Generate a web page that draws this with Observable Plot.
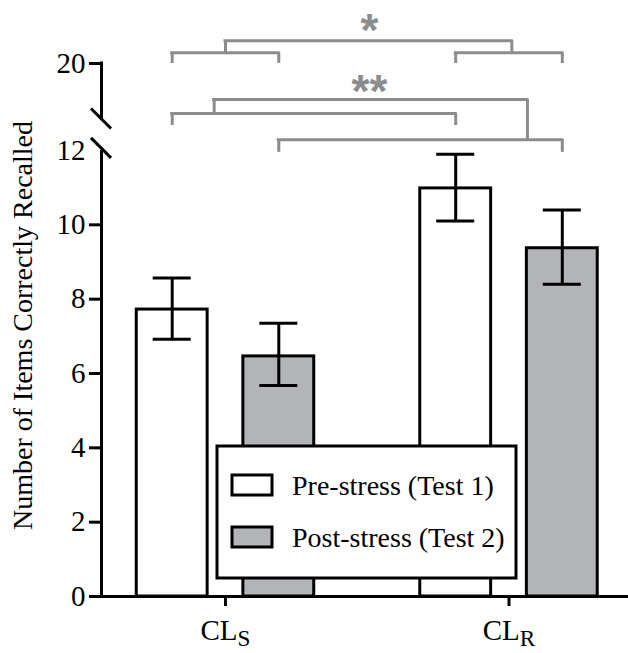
<!DOCTYPE html>
<html><head><meta charset="utf-8">
<script src="https://cdn.jsdelivr.net/npm/d3@7"></script>
<script src="https://cdn.jsdelivr.net/npm/@observablehq/plot@0.6"></script>
<style>body{margin:0;background:#fff;} svg{display:block}</style>
</head><body><div id="chart"></div>
<script>
// ---- data ----
const groups = ["CL_S", "CL_R"];
const conditions = ["Pre-stress (Test 1)", "Post-stress (Test 2)"];
const barGroup = [0, 0, 1, 1];
const barCondition = [0, 1, 0, 1];
const barMean = [7.72, 6.46, 10.98, 9.37];
const barLow = [6.92, 5.68, 10.10, 8.40];
const barHigh = [8.57, 7.35, 11.90, 10.40];
const yTicks = [0, 2, 4, 6, 8, 10, 20];
const yBreakTick = [12];
const yLabel = "Number of Items Correctly Recalled";

// pairwise comparison brackets (bar indices and levels in axis units)
const compFrom = [0, 2, 0, 1];
const compTo = [1, 3, 2, 3];
const compLevel = [21.0, 21.0, 15.4, 13.0];
const compLegEnd = [20.0, 20.0, 14.3, 11.95];
// significance connectors joining two comparisons
const sigText = ["*", "**"];
const sigLevel = [22.1, 16.7];
const sigLeftComp = [0, 2];
const sigRightComp = [1, 3];
const sigLeftX = [0.0, -0.04];
const sigRightX = [1.01, 1.065];
const sigTextLevel = [23.0, 17.4];
const breakMarks = [14.9, 12.2];

// ---- layout constants ----
const W = 628, H = 653;
const condOffset = [-0.188, 0.188];
const halfBar = 0.125, halfCap = 0.067;
const xDomain = [-0.4374, 1.4215];
const GRAY = "#b3b4b8", BR = "#8b8c8e";
const SERIF = "'Liberation Serif', 'Times New Roman', serif";

const bars = barMean.map((m, i) => ({
  x: barGroup[i] + condOffset[barCondition[i]],
  cond: barCondition[i], mean: m, lo: barLow[i], hi: barHigh[i]
}));
const comps = compFrom.map((f, i) => ({
  x1: bars[f].x, x2: bars[compTo[i]].x, level: compLevel[i], leg: compLegEnd[i]
}));
const legs = comps.flatMap(c => [{x: c.x1, y1: c.level, y2: c.leg}, {x: c.x2, y1: c.level, y2: c.leg}]);
const sigs = sigText.map((t, i) => ({
  text: t, level: sigLevel[i], tl: sigTextLevel[i], x1: sigLeftX[i], x2: sigRightX[i],
  l1: compLevel[sigLeftComp[i]], l2: compLevel[sigRightComp[i]]
}));
const sigLegs = sigs.flatMap(s => [{x: s.x1, y1: s.level, y2: s.l1}, {x: s.x2, y1: s.level, y2: s.l2}]);

const chart = Plot.plot({
  width: W, height: H,
  marginLeft: 101, marginRight: 0, marginTop: 0, marginBottom: 57,
  style: {fontFamily: SERIF, fontSize: "29px", color: "black", background: "white"},
  x: {type: "linear", domain: xDomain, range: [101, 628], axis: null},
  y: {type: "linear", domain: [0, 12, 20], range: [596, 150, 63], axis: null},
  marks: [
    Plot.rect(bars, {x1: d => d.x - halfBar, x2: d => d.x + halfBar, y1: 0, y2: "mean",
      fill: d => d.cond === 0 ? "white" : GRAY, stroke: "black", strokeWidth: 3}),
    Plot.ruleX(bars, {x: "x", y1: "lo", y2: "hi", stroke: "black", strokeWidth: 3}),
    Plot.ruleY(bars, {y: "lo", x1: d => d.x - halfCap, x2: d => d.x + halfCap, stroke: "black", strokeWidth: 3}),
    Plot.ruleY(bars, {y: "hi", x1: d => d.x - halfCap, x2: d => d.x + halfCap, stroke: "black", strokeWidth: 3}),
    // brackets
    Plot.ruleY(comps, {y: "level", x1: "x1", x2: "x2", stroke: BR, strokeWidth: 3, strokeLinecap: "square"}),
    Plot.ruleX(legs, {x: "x", y1: "y1", y2: "y2", stroke: BR, strokeWidth: 3}),
    Plot.ruleY(sigs, {y: "level", x1: "x1", x2: "x2", stroke: BR, strokeWidth: 3, strokeLinecap: "square"}),
    Plot.ruleX(sigLegs, {x: "x", y1: "y1", y2: "y2", stroke: BR, strokeWidth: 3}),
    Plot.text(sigs, {x: 0.508, y: "tl", text: "text", fill: BR, fontFamily: "'Liberation Sans', Arial, sans-serif",
      fontWeight: "bold", fontSize: 46}),
    // axes
    Plot.ruleY([0], {stroke: "black", strokeWidth: 3}),
    Plot.ruleX([xDomain[0]], {y1: 0, y2: 12, stroke: "black", strokeWidth: 3}),
    Plot.ruleX([xDomain[0]], {y1: 20, y2: breakMarks[0], stroke: "black", strokeWidth: 3, strokeLinecap: "square"}),
    Plot.axisY({ticks: yTicks, tickSize: 12, tickPadding: 4, strokeWidth: 3, fontSize: 29, label: null}),
    Plot.axisY({ticks: yBreakTick, tickSize: 0, tickPadding: 16, fontSize: 29, label: null}),
    Plot.axisX({ticks: [0, 1], tickSize: 10, tickPadding: 13, strokeWidth: 3, fontSize: 29,
      tickFormat: i => groups[i], label: null})
  ]
});

const svg = d3.select(chart);
const ys = chart.scale("y"), xs = chart.scale("x");
const ax = xs.apply(xDomain[0]);

// subscripts on group labels
svg.selectAll("text").each(function() {
  const t = this.textContent;
  if (groups.includes(t)) {
    const [base, sub] = t.split("_");
    const sel = d3.select(this);
    sel.text(null);
    sel.append("tspan").text(base);
    sel.append("tspan").attr("dy", "0.25em").attr("font-size", "0.8em").text(sub);
  }
});

// axis break marks
breakMarks.forEach(v => {
  const cy = ys.apply(v);
  svg.append("line").attr("x1", ax - 10).attr("y1", cy - 10).attr("x2", ax + 10).attr("y2", cy + 10)
    .attr("stroke", "black").attr("stroke-width", 3);
});

// y-axis title
svg.append("text").attr("transform", `translate(22,${(ys.apply(0) + ys.apply(20)) / 2 - 4}) rotate(-90)`)
  .attr("text-anchor", "middle").attr("dy", "0.35em")
  .attr("font-family", SERIF).attr("font-size", 28).attr("fill", "black").text(yLabel);

// legend
const lg = svg.append("g").attr("font-family", SERIF).attr("font-size", 28).attr("text-anchor", "start");
lg.append("rect").attr("x", 217).attr("y", 446).attr("width", 299).attr("height", 132)
  .attr("fill", "white").attr("stroke", "black").attr("stroke-width", 3);
conditions.forEach((c, i) => {
  const y0 = 475 + i * 52;
  lg.append("rect").attr("x", 232).attr("y", y0).attr("width", 40).attr("height", 20)
    .attr("fill", i === 0 ? "white" : GRAY).attr("stroke", "black").attr("stroke-width", 3);
  lg.append("text").attr("x", 292).attr("y", y0 + 20).attr("fill", "black").attr("text-anchor", "start").text(c);
});

document.getElementById("chart").appendChild(chart);
</script>
</body></html>
